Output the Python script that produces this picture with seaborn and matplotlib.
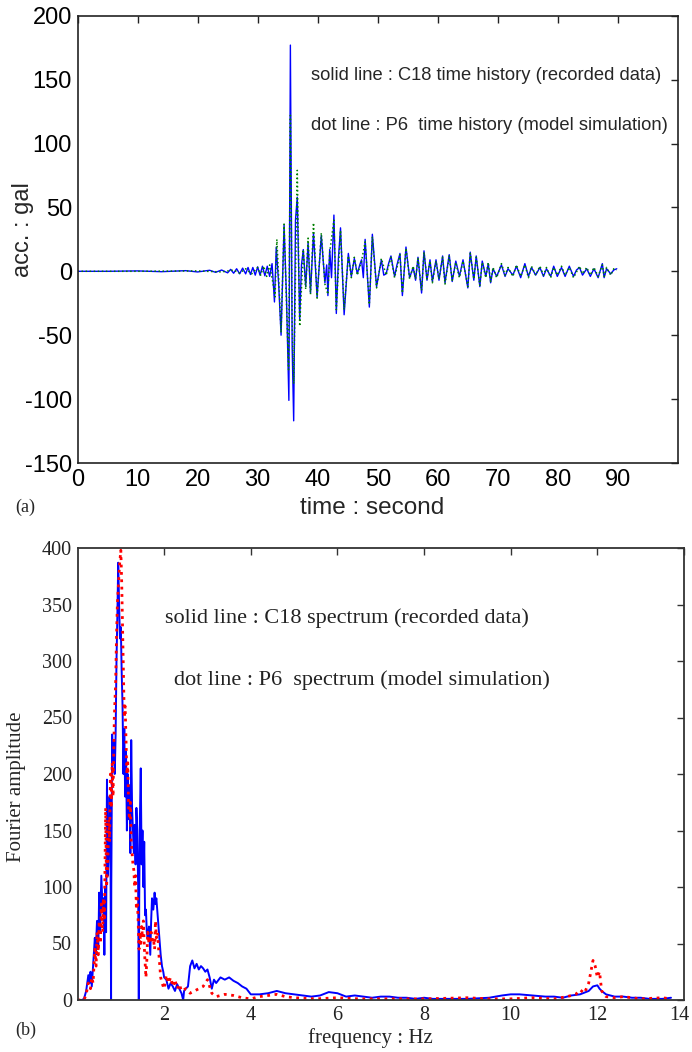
import matplotlib
matplotlib.use("Agg")
import matplotlib.pyplot as plt
import matplotlib.transforms as mtransforms
import seaborn as sns

# ---------------- (a) time histories ----------------
c18_time = [0, 5, 10, 14, 18, 20, 22, 23, 24, 25, 25.5, 26, 26.5, 27, 27.5, 28,
            28.4, 28.8, 29.2, 29.6, 30.0, 30.4, 30.8, 31.2, 31.6, 32.0, 32.4, 32.8,
            33.1, 33.5, 33.9, 34.4, 34.8, 35.2, 35.45, 35.75, 36.0, 36.3, 36.6, 37.0,
            37.3, 37.6, 38.0, 38.4, 38.8, 39.3, 39.9, 40.6, 41.2, 41.5, 41.7, 42.0,
            42.3, 42.7, 43.1, 43.45, 43.8, 44.4, 45.1, 45.6, 46.1, 46.6, 47.0, 47.3,
            47.6, 47.9, 48.6, 49.1, 49.8, 50.6, 51.0, 51.4, 51.8, 52.2, 52.8, 53.2,
            53.7, 54.1, 54.7, 55.3, 55.9, 56.3, 56.7, 57.3, 57.7, 58.2, 58.7, 59.1,
            59.7, 60.2, 60.8, 61.2, 61.9, 62.4, 63.0, 63.6, 64.2, 65.0, 65.4, 66.0,
            66.4, 67.0, 67.4, 68.0, 68.4, 68.8, 69.2, 69.8, 70.6, 71.2, 71.7, 72.5,
            73.1, 73.8, 74.5, 75.1, 75.6, 76.3, 77.0, 77.6, 78.1, 78.8, 79.3, 79.9,
            80.6, 81.2, 81.9, 82.6, 83.1, 83.6, 84.1, 84.8, 85.4, 86.0, 86.7, 87.4,
            87.7, 88.1, 88.8, 89.3, 89.8]
c18_acc = [0, 0, 0.3, -0.3, 0.5, -0.5, 0.8, -0.8, 1, -1.2, 1.5, -1.5, 2, -2, 2.5, -2,
           3, -2.5, 3, -3, 3.5, -3, 4, -3.5, 4, -4, 6, -24,
           19, -10, -50, 36, -20, -101, 177, -60, -117, 40, 58, -38,
           5, 17, -12, 22, -17, 30, -20, 28, -9, 5, -19, 17,
           -5, 44, -33, 10, 34, -34, 14, -4, 10, -2, 5, 9,
           -5, 25, -28, 29, -12, 9, -3, -2, 6, 12, -4, 5,
           14, -19, 19, -5, 3, -7, 11, -17, 16, -7, 9, -8,
           9, -7, 12, -9, 13, -8, 8, -4, 9, -13, 15, -7,
           12, -12, 8, -4, 6, -9, 2, -4, 5, -4, 2, -3,
           4, -5, 6, -4, 3, -3, 3, -4, 2, -4, 4, -4,
           3, -4, 4, -4, 1, 3, -3, 2, -4, 2, -5, 6,
           -5, 2, -2, 1, 2]

p6_time = [0, 10, 20, 24, 26, 27, 28, 29, 30, 30.5, 31, 31.5, 32, 32.5, 32.9,
           33.2, 33.6, 33.9, 34.4, 34.8, 35.15, 35.45, 35.75, 36.0, 36.6, 37.0,
           37.6, 38.0, 38.4, 38.8, 39.3, 39.9, 40.6, 41.2, 41.7, 42.0, 42.7, 43.1,
           43.8, 44.4, 45.1, 45.6, 46.1, 46.6, 47.3, 47.9, 48.6, 49.1, 49.8, 50.6,
           51.4, 52.2, 52.8, 53.7, 54.1, 54.7, 55.3, 55.9, 56.3, 56.7, 57.3, 57.7,
           58.2, 58.7, 59.1, 59.7, 60.2, 60.8, 61.2, 61.9, 62.4, 63.0, 63.6, 64.2,
           65.0, 65.4, 66.0, 66.4, 67.0, 67.4, 68.0, 68.4, 68.8, 69.2, 69.8, 70.6,
           71.2, 71.7, 72.5, 73.1, 73.8, 74.5, 75.1, 75.6, 76.3, 77.0, 77.6, 78.1,
           78.8, 79.3, 79.9, 80.6, 81.2, 81.9, 82.6, 83.6, 84.1, 84.8, 85.4, 86.0,
           86.7, 87.4, 87.7, 88.1, 88.8, 89.3, 89.8]
p6_acc = [0, 0, 0.3, -0.5, 1, -1.5, 2, -2, 3, -3, 4, -4, 5, -8, -20,
          25, -15, -48, 37, -25, -77, 122, -40, -88, 79, -43,
          17, -14, 26, -18, 38, -21, 30, -10, -18, 15, 40, -30,
          32, -30, 12, -5, 11, -3, 8, 23, -26, 27, -13, 10,
          -3, 11, -5, 13, -17, 18, -6, 4, -6, 10, -15, 15,
          -6, 8, -9, 8, -6, 11, -10, 12, -7, 7, -5, 8,
          -12, 14, -6, 11, -11, 7, -5, 7, -8, 3, -5, 6,
          -3, 3, -4, 5, -4, 5, -5, 4, -3, 4, -3, 3,
          -5, 3, -3, 4, -3, 3, -5, 4, -2, 3, -3, 3,
          -4, 5, -4, 3, -3, 2, 1]

time_ticks = [0, 10, 20, 30, 40, 50, 60, 70, 80, 90]
acc_ticks = [-150, -100, -50, 0, 50, 100, 150, 200]

# ---------------- (b) Fourier spectra ----------------
c18_freq = [0.0, 0.1, 0.15, 0.2, 0.25, 0.28, 0.3, 0.33, 0.36, 0.4, 0.42, 0.45, 0.48,
            0.5, 0.52, 0.55, 0.58, 0.6, 0.62, 0.64, 0.66, 0.68, 0.7, 0.72, 0.74,
            0.76, 0.77, 0.775, 0.78, 0.8, 0.82, 0.84, 0.86, 0.88, 0.9, 0.92, 0.94,
            0.96, 0.98, 1.0, 1.02, 1.04, 1.06, 1.08, 1.1, 1.12, 1.14, 1.16, 1.18,
            1.2, 1.22, 1.24, 1.26, 1.28, 1.3, 1.32, 1.34, 1.36, 1.38, 1.4, 1.415,
            1.425, 1.44, 1.46, 1.48, 1.5, 1.52, 1.54, 1.56, 1.58, 1.6, 1.62, 1.65,
            1.68, 1.7, 1.72, 1.75, 1.78, 1.8, 1.82, 1.85, 1.88, 1.9, 1.92, 1.95,
            1.98, 2.0, 2.05, 2.1, 2.15, 2.2, 2.25, 2.3, 2.35, 2.4, 2.44, 2.46,
            2.5, 2.55, 2.6, 2.65, 2.7, 2.75, 2.8, 2.85, 2.9, 2.95, 3.0, 3.05,
            3.1, 3.15, 3.2, 3.3, 3.4, 3.5, 3.6, 3.7, 3.8, 3.9, 4.0, 4.2,
            4.4, 4.6, 4.8, 5.0, 5.2, 5.4, 5.6, 5.8, 6.0, 6.2, 6.4, 6.6,
            6.8, 7.0, 7.2, 7.4, 7.6, 7.8, 8.0, 8.2, 8.5, 9.0, 9.5, 9.8,
            10.0, 10.2, 10.5, 10.8, 11.0, 11.2, 11.4, 11.6, 11.8, 11.9, 12.0, 12.05,
            12.1, 12.2, 12.4, 12.6, 12.8, 13.0, 13.2, 13.5, 13.7]
c18_amp = [0, 0, 1, 8, 22, 15, 25, 12, 30, 55, 40, 70, 45,
           95, 60, 110, 80, 90, 40, 100, 60, 195, 110, 130, 180,
           150, 40, 0, 100, 235, 210, 230, 200, 235, 300, 340, 387,
           350, 320, 330, 290, 260, 200, 240, 180, 220, 150, 200, 160,
           190, 130, 230, 170, 150, 130, 155, 120, 170, 150, 100, 0,
           90, 160, 205, 120, 150, 100, 140, 75, 80, 60, 55, 65,
           40, 70, 90, 80, 95, 85, 90, 75, 60, 50, 40, 30,
           25, 20, 18, 10, 15, 12, 8, 14, 10, 6, 0, 8,
           10, 12, 30, 35, 28, 32, 27, 30, 28, 25, 27, 20,
           10, 18, 15, 20, 18, 20, 17, 15, 12, 10, 5, 5,
           6, 8, 6, 5, 4, 3, 4, 7, 6, 3, 4, 3,
           2, 3, 3, 2, 2, 1, 2, 1, 1, 1, 2, 4,
           5, 5, 4, 3, 3, 2, 4, 5, 8, 12, 13, 10,
           8, 5, 3, 3, 2, 2, 1, 1, 2]

p6_freq = [0.0, 0.15, 0.2, 0.25, 0.3, 0.33, 0.36, 0.4, 0.43, 0.45, 0.48, 0.5,
           0.53, 0.55, 0.58, 0.6, 0.62, 0.65, 0.67, 0.7, 0.72, 0.74, 0.76, 0.78,
           0.8, 0.82, 0.85, 0.88, 0.9, 0.92, 0.95, 0.97, 1.0, 1.02, 1.04, 1.06,
           1.08, 1.1, 1.12, 1.14, 1.16, 1.18, 1.2, 1.22, 1.24, 1.26, 1.28, 1.3,
           1.32, 1.34, 1.36, 1.38, 1.4, 1.42, 1.44, 1.46, 1.48, 1.5, 1.52, 1.55,
           1.58, 1.6, 1.62, 1.65, 1.68, 1.7, 1.72, 1.75, 1.78, 1.8, 1.82, 1.85,
           1.88, 1.9, 1.92, 1.95, 2.0, 2.05, 2.1, 2.15, 2.2, 2.25, 2.3, 2.35,
           2.4, 2.5, 2.6, 2.7, 2.8, 2.9, 3.0, 3.05, 3.1, 3.2, 3.4, 3.6,
           3.8, 4.0, 4.2, 4.4, 4.6, 4.8, 5.0, 5.5, 6.0, 6.5, 7.0, 8.0,
           9.0, 9.5, 10.0, 10.5, 11.0, 11.3, 11.5, 11.6, 11.7, 11.8, 11.85, 11.9,
           11.95, 12.0, 12.05, 12.1, 12.2, 12.4, 12.6, 12.8, 13.0, 13.5, 13.7]
p6_amp = [0, 0, 5, 15, 10, 20, 15, 45, 30, 60, 40, 70,
          50, 85, 60, 90, 70, 170, 100, 120, 160, 140, 200, 170,
          210, 180, 250, 280, 320, 350, 370, 385, 398, 370, 330, 290,
          250, 260, 230, 200, 210, 170, 160, 175, 140, 130, 120, 115,
          100, 110, 80, 90, 70, 45, 60, 50, 65, 55, 70, 40,
          20, 35, 60, 50, 55, 60, 50, 55, 45, 70, 55, 60,
          40, 30, 20, 15, 10, 22, 15, 20, 12, 18, 10, 14,
          8, 10, 6, 8, 10, 12, 18, 12, 6, 3, 5, 4,
          2, 1, 3, 4, 5, 3, 2, 1, 2, 1, 1, 1,
          2, 1, 1, 2, 1, 3, 5, 9, 6, 15, 25, 35,
          30, 20, 25, 8, 3, 2, 3, 2, 1, 2, 1]

freq_ticks = [2, 4, 6, 8, 10, 12, 14]
amp_ticks = [0, 50, 100, 150, 200, 250, 300, 350, 400]

assert len(c18_time) == len(c18_acc), (len(c18_time), len(c18_acc))
assert len(p6_time) == len(p6_acc), (len(p6_time), len(p6_acc))
assert len(c18_freq) == len(c18_amp), (len(c18_freq), len(c18_amp))
assert len(p6_freq) == len(p6_amp), (len(p6_freq), len(p6_amp))

sns.set_style("white")
SANS = ["Liberation Sans", "DejaVu Sans"]
SERIF = ["Liberation Serif", "DejaVu Serif"]
plt.rcParams["font.family"] = SANS
plt.rcParams["axes.unicode_minus"] = False

W, H = 692, 1052
fig = plt.figure(figsize=(W / 100, H / 100), dpi=100)

# ---- top panel ----
ax1 = fig.add_axes([77.5 / W, 1 - 463 / H, (678 - 77.5) / W, (463 - 15.7) / H])
sns.lineplot(x=c18_time, y=c18_acc, ax=ax1, color="#0000ff", linewidth=1.0,
             estimator=None, sort=False)
sns.lineplot(x=p6_time, y=p6_acc, ax=ax1, color="#008000", linewidth=1.1,
             linestyle=":", estimator=None, sort=False)
ax1.set_xlim(0, 100)
ax1.set_ylim(-150, 200)
ax1.set_xticks(time_ticks)
ax1.set_yticks(acc_ticks)
ax1.tick_params(direction="in", top=True, right=True, length=5, width=1,
                labelsize=17, pad=4, colors="#222222", labelcolor="black")
for s in ax1.spines.values():
    s.set_color("#222222")
    s.set_linewidth(1.2)
ax1.set_xlabel("time : second", fontsize=17.5, family=SANS)
ax1.set_ylabel("acc. : gal", fontsize=17, family=SANS)
ax1.xaxis.set_label_coords((372 - 77.5) / (678 - 77.5), -(508 - 463) / (463 - 15.7))
ax1.yaxis.set_label_coords(-(77.5 - 23) / (678 - 77.5), (463 - 230) / (463 - 15.7))
ax1.xaxis.label.set_verticalalignment("center")
ax1.yaxis.label.set_verticalalignment("center")
ax1.text(38.95, 153, "solid line : C18 time history (recorded data)",
         fontsize=13.2, family=SANS, va="center", ha="left")
ax1.text(38.95, 114, "dot line : P6  time history (model simulation)",
         fontsize=13.2, family=SANS, va="center", ha="left")

# ---- bottom panel ----
ax2 = fig.add_axes([77.5 / W, 1 - 1000 / H, (684 - 77.5) / W, (1000 - 548) / H])
sns.lineplot(x=c18_freq, y=c18_amp, ax=ax2, color="#0000ff", linewidth=1.4,
             estimator=None, sort=False)
sns.lineplot(x=p6_freq, y=p6_amp, ax=ax2, color="#ff0000", linewidth=2.0,
             linestyle=":", estimator=None, sort=False)
ax2.set_xlim(0, 14)
ax2.set_ylim(0, 400)
ax2.set_xticks(freq_ticks)
ax2.set_yticks(amp_ticks)
ax2.tick_params(direction="in", top=True, right=True, length=5, width=1,
                labelsize=14.5, pad=4, colors="#333333", labelcolor="#222222")
for lab in ax2.get_xticklabels() + ax2.get_yticklabels():
    lab.set_family(SERIF)
# keep the last frequency label inside the canvas
last = ax2.get_xticklabels()[-1]
last.set_transform(last.get_transform() +
                   mtransforms.ScaledTranslation(-5 / 100, 0, fig.dpi_scale_trans))
for s in ax2.spines.values():
    s.set_color("#333333")
    s.set_linewidth(1.3)
ax2.set_xlabel("frequency : Hz", fontsize=15, family=SERIF)
ax2.set_ylabel("Fourier amplitude", fontsize=15, family=SERIF)
ax2.xaxis.set_label_coords((370 - 77.5) / (684 - 77.5), -(1038 - 1000) / (1000 - 548))
ax2.yaxis.set_label_coords(-(77.5 - 17) / (684 - 77.5), (1000 - 787) / (1000 - 548))
ax2.xaxis.label.set_verticalalignment("center")
ax2.yaxis.label.set_verticalalignment("center")
ax2.text(2.03, 338, "solid line : C18 spectrum (recorded data)",
         fontsize=16, family=SERIF, va="center", ha="left", color="#222222")
ax2.text(2.23, 283, "dot line : P6  spectrum (model simulation)",
         fontsize=16, family=SERIF, va="center", ha="left", color="#222222")

fig.text(15 / W, 1 - 507 / H, "(a)", fontsize=13, family=SERIF, va="center", ha="left")
fig.text(15 / W, 1 - 1030 / H, "(b)", fontsize=13, family=SERIF, va="center", ha="left")

fig.savefig("out.png", dpi=100)
